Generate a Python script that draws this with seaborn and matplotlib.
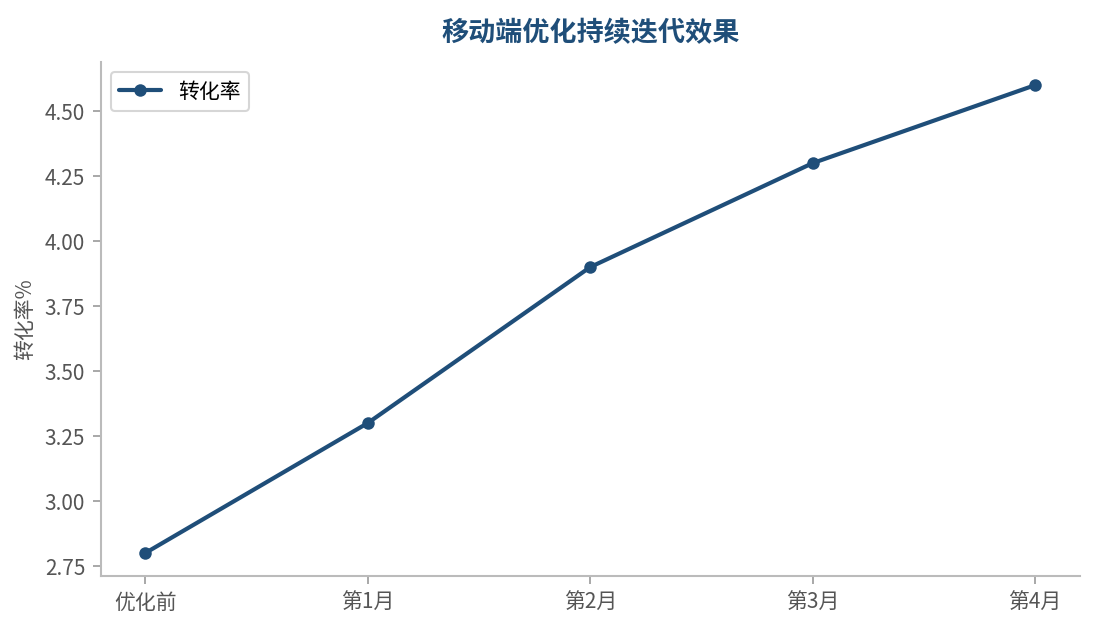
import matplotlib
matplotlib.use("Agg")
import matplotlib.pyplot as plt
import seaborn as sns
import pandas as pd

stages = ["优化前", "第1月", "第2月", "第3月", "第4月"]
conversion = [2.8, 3.3, 3.9, 4.3, 4.6]
series_name = "转化率"

sns.set_theme(style="white")
plt.rcParams['font.family'] = ['Noto Sans CJK SC', 'DejaVu Sans']
plt.rcParams['axes.unicode_minus'] = False

df = pd.DataFrame({"stage": stages, "value": conversion})
color = "#1f4e79"

fig, ax = plt.subplots(figsize=(7.3, 4.2), dpi=150)
sns.lineplot(data=df, x="stage", y="value", ax=ax, color=color, linewidth=2,
             marker="o", markersize=6, markeredgewidth=0, label=series_name, sort=False)

ax.set_title("移动端优化持续迭代效果", fontsize=13, fontweight="bold", color=color, pad=10)
ax.set_xlabel("")
ax.set_ylabel("转化率%", fontsize=10, color="#555555")
ax.set_yticks([2.75, 3.00, 3.25, 3.50, 3.75, 4.00, 4.25, 4.50])
ax.yaxis.set_major_formatter(matplotlib.ticker.FormatStrFormatter("%.2f"))
ax.tick_params(axis="both", labelsize=10, labelcolor="#555555", color="#999999",
               length=4, width=0.8, left=True, bottom=True, direction="out")
sns.despine(ax=ax)
for s in ["left", "bottom"]:
    ax.spines[s].set_color("#bbbbbb")
    ax.spines[s].set_linewidth(1.0)

leg = ax.legend(loc="upper left", fontsize=10, frameon=True)
leg.get_frame().set_edgecolor("#cccccc")
for t in leg.get_texts():
    t.set_color("black")

fig.subplots_adjust(left=0.092, right=0.986, top=0.902, bottom=0.085)
fig.savefig("out.png", dpi=150)
